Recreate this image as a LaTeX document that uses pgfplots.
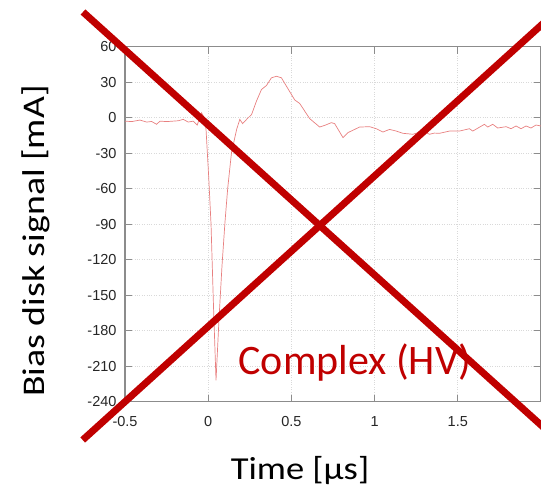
\documentclass[border=0pt]{standalone}
\usepackage{fontspec}
\setmainfont{Carlito}
\newfontfamily\arial{Liberation Sans}
\usepackage{graphicx}
\usepackage{pgfplots}
\pgfplotsset{compat=1.18}
\definecolor{xred}{RGB}{192,0,0}
\definecolor{sigred}{RGB}{232,128,128}
\definecolor{axgray}{RGB}{140,140,140}
\begin{document}
\begin{tikzpicture}
\begin{axis}[
  at={(0,0)}, anchor=south west,
  scale only axis, width=416pt, height=355pt,
  xmin=-0.5, xmax=2, ymin=-240, ymax=60,
  xtick={-0.5,0,0.5,1,1.5,2},
  xticklabels={-0.5,0,0.5,1,1.5,},
  ytick={-240,-210,-180,-150,-120,-90,-60,-30,0,30,60},
  yticklabels={-240,-210,-180,-150,-120,-90,-60,-30,0,30,60},
  tick label style={font=\arial\fontsize{14.5}{16}\selectfont, text=black!85},
  xticklabel style={yshift=-11pt},
  yticklabel style={xshift=-5pt},
  axis line style={axgray, line width=1.2pt},
  tick style={axgray, line width=1pt},
  major tick length=7pt,
  tick align=inside,
  grid=major,
  major grid style={dotted, gray!30, line width=0.7pt},
  clip=true,
]
\addplot[sigred, line width=0.7pt, mark=none] coordinates {
(-0.5,-2.9) (-0.46,-3.3) (-0.41,-2) (-0.37,-3.7) (-0.34,-3.2) (-0.31,-5.6) (-0.29,-2.9) (-0.25,-3.3) (-0.21,-2.9) (-0.18,-2.6) (-0.15,-1.4) (-0.12,-3.7) (-0.09,-2.9) (-0.066,-6.2) (-0.04,4.2) (-0.027,0.8) (-0.013,-9.9)
(0.003,-50) (0.017,-90) (0.032,-160) (0.047,-222) (0.065,-170) (0.083,-125) (0.101,-88) (0.117,-60) (0.14,-29.5) (0.171,-9.9) (0.19,-1.4) (0.207,-5) (0.231,-1.4) (0.261,2.8) (0.29,14) (0.32,23.8) (0.35,27.2) (0.38,33.7) (0.41,35) (0.44,33.7) (0.49,22) (0.52,15) (0.55,12) (0.58,5.6) (0.61,-0.8) (0.67,-7.9) (0.70,-6.5) (0.74,-4.2) (0.76,-5) (0.81,-16.8) (0.84,-12.6) (0.88,-9.9) (0.91,-7.9) (0.97,-7.6) (1.01,-9.3) (1.05,-12.1) (1.09,-9.9) (1.13,-11.3) (1.17,-13.2) (1.23,-14) (1.29,-11.3) (1.33,-14) (1.36,-13) (1.39,-13.2) (1.45,-11.3) (1.51,-11.3) (1.57,-9.3) (1.59,-11.3) (1.66,-5.6) (1.68,-7.9) (1.71,-5.6) (1.74,-8.7) (1.79,-7.6) (1.82,-9.3) (1.85,-7) (1.88,-9.3) (1.91,-7) (1.94,-8.7) (1.97,-6.2) (2.0,-7)
};
\end{axis}
% axis labels (slightly stretched like the reference)
\node[rotate=90, anchor=base, inner sep=0pt] at (-80pt,160.7pt)
  {\scalebox{1.2}[1]{\fontsize{31.5}{36}\selectfont Bias disk signal [mA]}};
\node[anchor=base, inner sep=0pt] at (175pt,-78.3pt)
  {\scalebox{1.14}[1]{\fontsize{32}{36}\selectfont Time [µs]}};
% annotation
\node[anchor=base west, inner sep=0pt, text=xred] at (113.3pt,26.7pt)
  {\fontsize{42}{48}\selectfont Complex (HV)};
\draw[xred, line width=7pt] (-42pt,389.7pt) -- (430pt,-36pt);
\draw[xred, line width=7pt] (-42.3pt,-38.3pt) -- (430pt,389pt);
\pgfresetboundingbox
\path[use as bounding box] (-125pt,-87.3pt) rectangle (416pt,401.7pt);
\end{tikzpicture}
\end{document}
